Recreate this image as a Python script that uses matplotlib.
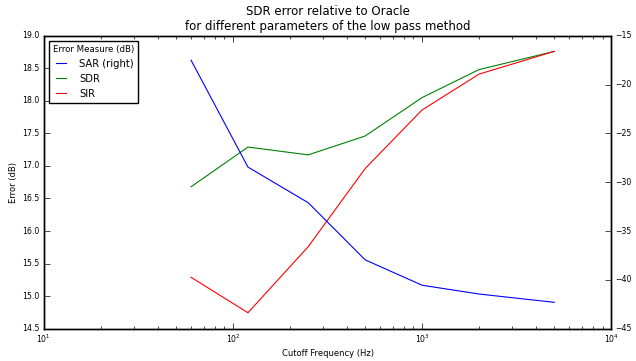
import matplotlib
matplotlib.use('Agg')
import matplotlib.pyplot as plt

plt.style.use('classic')

# Cutoff frequencies (Hz) and error measures (dB)
cutoff = [60, 120, 250, 500, 1000, 2000, 5000]
sar = [-17.5, -28.45, -32.1, -37.95, -40.55, -41.45, -42.3]
sdr = [16.68, 17.29, 17.17, 17.46, 18.05, 18.48, 18.76]
sir = [15.29, 14.745, 15.76, 16.96, 17.86, 18.41, 18.76]

fig = plt.figure(figsize=(6.36, 3.61), dpi=100)
fig.patch.set_facecolor('white')
ax = fig.add_axes([0.069, 0.0895, 0.892, 0.8115])
ax2 = ax.twinx()

l_sdr, = ax.plot(cutoff, sdr, color='g', lw=0.8, label='SDR')
l_sir, = ax.plot(cutoff, sir, color='r', lw=0.8, label='SIR')
l_sar, = ax2.plot(cutoff, sar, color='b', lw=0.8, label='SAR (right)')

ax.set_xscale('log')
ax.set_xlim(10, 1e4)
ax.set_ylim(14.5, 19.0)
ax2.set_ylim(-45, -15)
ax.set_yticks([14.5, 15.0, 15.5, 16.0, 16.5, 17.0, 17.5, 18.0, 18.5, 19.0])

for a in (ax, ax2):
    a.tick_params(labelsize=5.6, pad=3)
ax.set_xlabel('Cutoff Frequency (Hz)', fontsize=6, labelpad=3)
ax.set_ylabel('Error (dB)', fontsize=6, labelpad=3)
ax.set_title('SDR error relative to Oracle\nfor different parameters of the low pass method',
             fontsize=8.5, pad=4)

leg = ax.legend([l_sar, l_sdr, l_sir], ['SAR (right)', 'SDR', 'SIR'],
                loc='upper left', fontsize=7.2, title='Error Measure (dB)',
                borderaxespad=0.5, handlelength=1.6, handletextpad=1.0)
leg.get_title().set_fontsize(6.2)

fig.savefig('out.png', dpi=100, facecolor='white')
